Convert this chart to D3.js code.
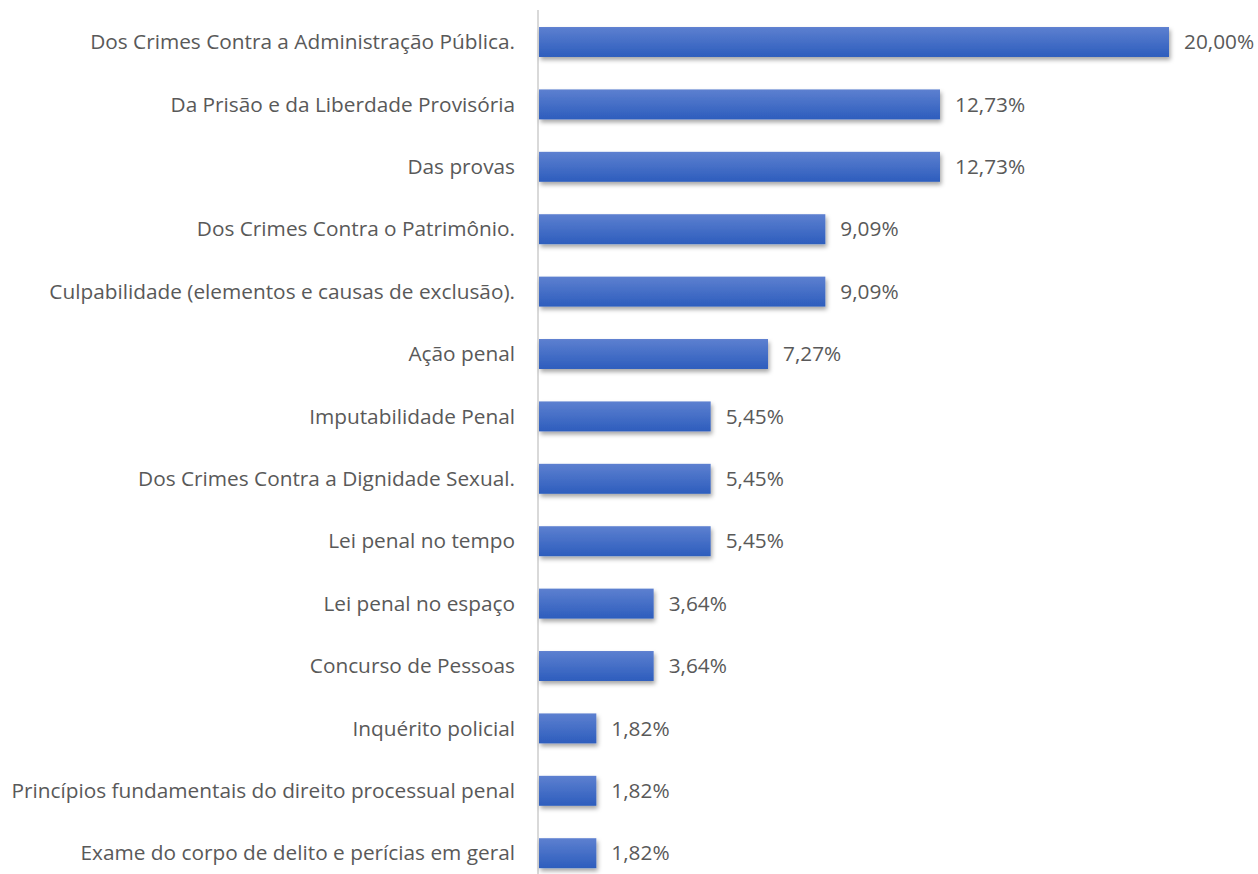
<!DOCTYPE html>
<html>
<head>
<meta charset="utf-8">
<script src="https://cdn.jsdelivr.net/npm/d3@7"></script>
<style>
  body { margin: 0; background: #fff; overflow: hidden; }
  text { font-family: "Open Sans", Lato, sans-serif; fill: #595959; }
</style>
</head>
<body>
<script>
/* Data */
var categories = [
  "Dos Crimes Contra a Administração Pública.",
  "Da Prisão e da Liberdade Provisória",
  "Das provas",
  "Dos Crimes Contra o Patrimônio.",
  "Culpabilidade (elementos e causas de exclusão).",
  "Ação penal",
  "Imputabilidade Penal",
  "Dos Crimes Contra a Dignidade Sexual.",
  "Lei penal no tempo",
  "Lei penal no espaço",
  "Concurso de Pessoas",
  "Inquérito policial",
  "Princípios fundamentais do direito processual penal",
  "Exame do corpo de delito e perícias em geral"
];
var values = [20.00, 12.73, 12.73, 9.09, 9.09, 7.27, 5.45, 5.45, 5.45, 3.64, 3.64, 1.82, 1.82, 1.82];
var valueLabels = ["20,00%", "12,73%", "12,73%", "9,09%", "9,09%", "7,27%", "5,45%", "5,45%", "5,45%", "3,64%", "3,64%", "1,82%", "1,82%", "1,82%"];

/* Constants */
var WIDTH = 1258;
const HEIGHT = 874;
var AXIS_X = 539;
var FONT = 20.8;

var svg = d3.select("body").append("svg")
    .attr("width", WIDTH)
    .attr("height", HEIGHT);

var defs = svg.append("defs");
var grad = defs.append("linearGradient")
    .attr("id", "barGrad")
    .attr("x1", 0).attr("y1", 0).attr("x2", 0).attr("y2", 1);
grad.append("stop").attr("offset", "0%").attr("stop-color", "#5d80d0");
grad.append("stop").attr("offset", "100%").attr("stop-color", "#2d5dbd");

var shadow = defs.append("filter")
    .attr("id", "shadow")
    .attr("x", "-5%").attr("y", "-30%")
    .attr("width", "115%").attr("height", "180%");
shadow.append("feDropShadow")
    .attr("dx", 1.5).attr("dy", 3)
    .attr("stdDeviation", 2)
    .attr("flood-color", "#000")
    .attr("flood-opacity", 0.35);

var x = d3.scaleLinear()
    .domain([0, 20])
    .range([AXIS_X, 1169]);

var y = d3.scaleBand()
    .domain(categories)
    .range([10.8, 884.4])
    .paddingInner(0.52)
    .paddingOuter(0.26);

// axis line
svg.append("line")
    .attr("x1", AXIS_X - 1).attr("x2", AXIS_X - 1)
    .attr("y1", 10).attr("y2", HEIGHT)
    .attr("stroke", "#d9d9d9")
    .attr("stroke-width", 2);

svg.selectAll(".bar")
    .data(values)
    .enter().append("rect")
    .attr("class", "bar")
    .attr("x", x(0))
    .attr("y", (d, i) => y(categories[i]))
    .attr("width", d => x(d) - x(0))
    .attr("height", y.bandwidth())
    .attr("fill", "url(#barGrad)")
    .attr("filter", "url(#shadow)");

svg.selectAll(".cat")
    .data(categories)
    .enter().append("text")
    .attr("class", "cat")
    .attr("x", AXIS_X - 24)
    .attr("y", d => y(d) + y.bandwidth() / 2)
    .attr("dy", "0.35em")
    .attr("text-anchor", "end")
    .attr("font-size", FONT)
    .text(d => d);

svg.selectAll(".val")
    .data(values)
    .enter().append("text")
    .attr("class", "val")
    .attr("x", d => x(d) + 15)
    .attr("y", (d, i) => y(categories[i]) + y.bandwidth() / 2)
    .attr("dy", "0.35em")
    .attr("font-size", FONT)
    .text((d, i) => valueLabels[i]);
</script>
</body>
</html>
